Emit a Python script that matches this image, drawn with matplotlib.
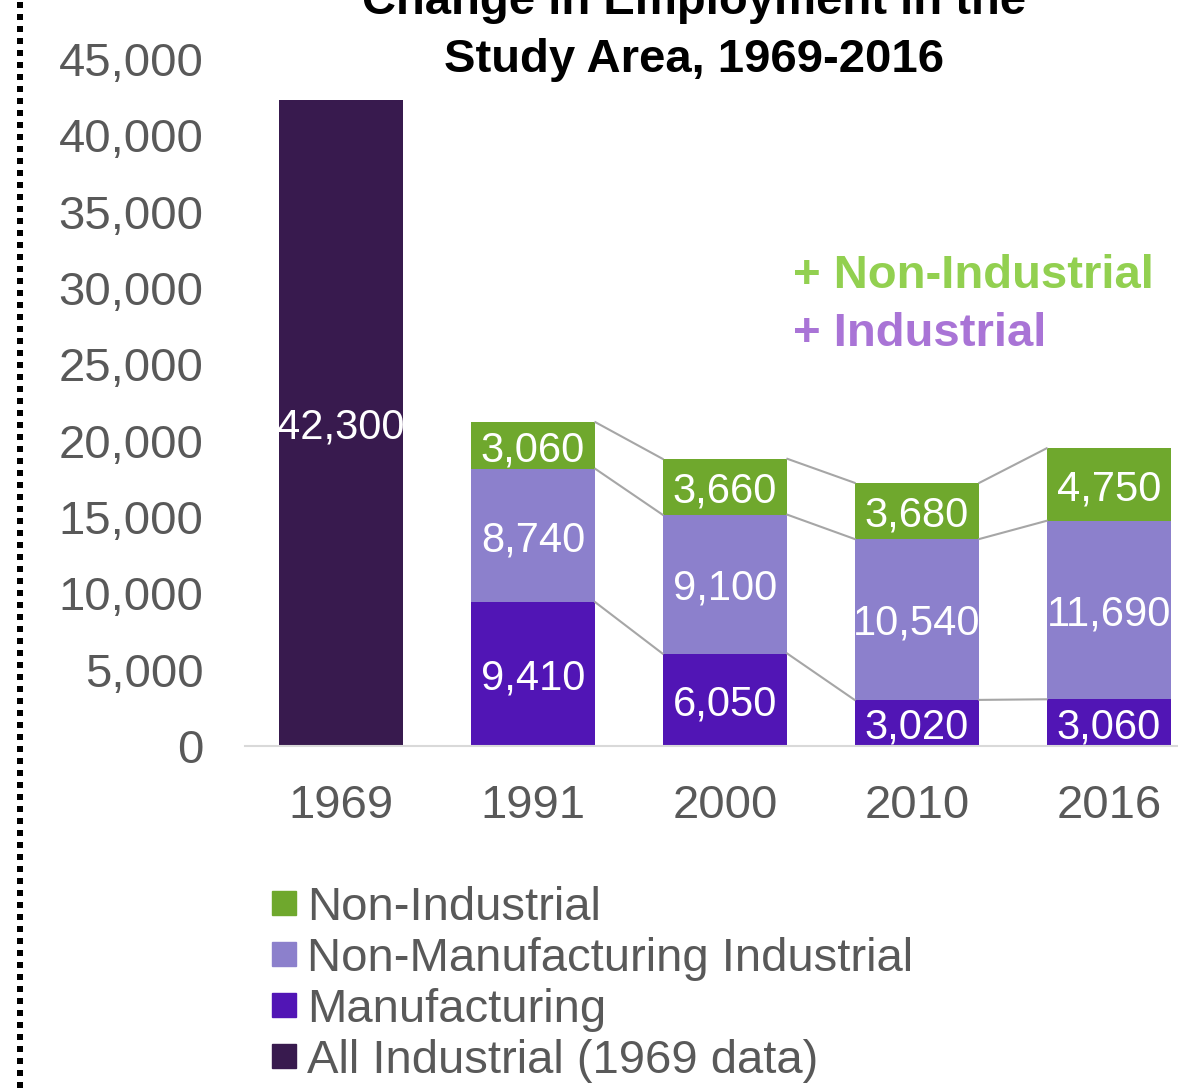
import matplotlib
matplotlib.use("Agg")
import matplotlib.pyplot as plt
from matplotlib.patches import Rectangle
from matplotlib.lines import Line2D

plt.rcParams['font.family'] = ['Liberation Sans', 'DejaVu Sans']

# Data
years = ['1969', '1991', '2000', '2010', '2016']
all_industrial = [42300, 0, 0, 0, 0]
manufacturing = [0, 9410, 6050, 3020, 3060]
non_manuf_industrial = [0, 8740, 9100, 10540, 11690]
non_industrial = [0, 3060, 3660, 3680, 4750]

c_nonind = '#6FA82D'
c_nonmanuf = '#8C80CC'
c_manuf = '#5115B5'
c_all = '#381A4E'
grey = '#595959'

fig = plt.figure(figsize=(11.78, 10.88), dpi=100)
W, H = 1178, 1088

# axes placed in pixel terms (right edge runs past the figure like the original crop)
ax = fig.add_axes([245 / W, (H - 746) / H, 960 / W, (746 - 59) / H])
x = list(range(len(years)))
bw = 0.65

ax.bar(x[0], all_industrial[0], bw, color=c_all)
b_m = ax.bar(x[1:], manufacturing[1:], bw, color=c_manuf)
b_n = ax.bar(x[1:], non_manuf_industrial[1:], bw, bottom=manufacturing[1:], color=c_nonmanuf)
tops2 = [m + n for m, n in zip(manufacturing, non_manuf_industrial)]
b_o = ax.bar(x[1:], non_industrial[1:], bw, bottom=tops2[1:], color=c_nonind)

# value labels
lab_kw = dict(ha='center', va='center_baseline', color='white', fontsize=30)
ax.text(x[0], all_industrial[0] / 2, f'{all_industrial[0]:,}', **lab_kw)
for i in range(1, len(years)):
    m, n, o = manufacturing[i], non_manuf_industrial[i], non_industrial[i]
    ax.text(x[i], m / 2, f'{m:,}', **lab_kw)
    ax.text(x[i], m + n / 2, f'{n:,}', **lab_kw)
    ax.text(x[i], m + n + o / 2, f'{o:,}', **lab_kw)

# series connector lines
for i in range(1, len(years) - 1):
    lv_a = [manufacturing[i], tops2[i], tops2[i] + non_industrial[i]]
    lv_b = [manufacturing[i + 1], tops2[i + 1], tops2[i + 1] + non_industrial[i + 1]]
    for a, b in zip(lv_a, lv_b):
        ax.plot([x[i] + bw / 2, x[i + 1] - bw / 2], [a, b], color='#A6A6A6', lw=1.5, zorder=1)

ax.set_xlim(-0.5, 4.5)
ax.set_ylim(0, 45000)
ax.set_yticks(range(0, 45001, 5000))
ax.set_yticklabels([f'{v:,}' for v in range(0, 45001, 5000)])
ax.set_xticks(x)
ax.set_xticklabels(years)
ax.tick_params(axis='y', length=0, pad=30, labelsize=34, labelcolor=grey)
ax.tick_params(axis='x', length=0, pad=27, labelsize=34, labelcolor=grey)
for s in ['top', 'right', 'left']:
    ax.spines[s].set_visible(False)
ax.spines['bottom'].set_color('#D9D9D9')
ax.spines['bottom'].set_linewidth(1.5)

# title (top line is cut by the frame, as in the original)
fig.text(694 / W, 1 - 14 / H, 'Change in Employment in the', ha='center', va='baseline',
         fontsize=34, fontweight='bold', color='black')
fig.text(694 / W, 1 - 72 / H, 'Study Area, 1969-2016', ha='center', va='baseline',
         fontsize=34, fontweight='bold', color='black')

# annotations
fig.text(793 / W, 1 - 288 / H, '+ Non-Industrial', ha='left', va='baseline',
         fontsize=34, fontweight='bold', color='#92D050')
fig.text(793 / W, 1 - 346 / H, '+ Industrial', ha='left', va='baseline',
         fontsize=34, fontweight='bold', color='#A974D6')

# legend
leg_labels = ['Non-Industrial', 'Non-Manufacturing Industrial', 'Manufacturing',
              'All Industrial (1969 data)']
leg_colors = [c_nonind, c_nonmanuf, c_manuf, c_all]
for k, (lab, col) in enumerate(zip(leg_labels, leg_colors)):
    yc = 903 + 51 * k
    fig.add_artist(Rectangle((272 / W, 1 - (yc + 12) / H), 24 / W, 24 / H,
                             transform=fig.transFigure, color=col))
    fig.text(307 / W, 1 - yc / H, lab, ha='left', va='center_baseline', fontsize=34, color=grey)

# dotted border at left
fig.add_artist(Line2D([20 / W, 20 / W], [0, 1], transform=fig.transFigure, color='black',
                      lw=6 * 72 / 100, linestyle=(0, (1, 1)), solid_capstyle='butt',
                      dash_capstyle='butt'))

fig.savefig('out.png', dpi=100)
